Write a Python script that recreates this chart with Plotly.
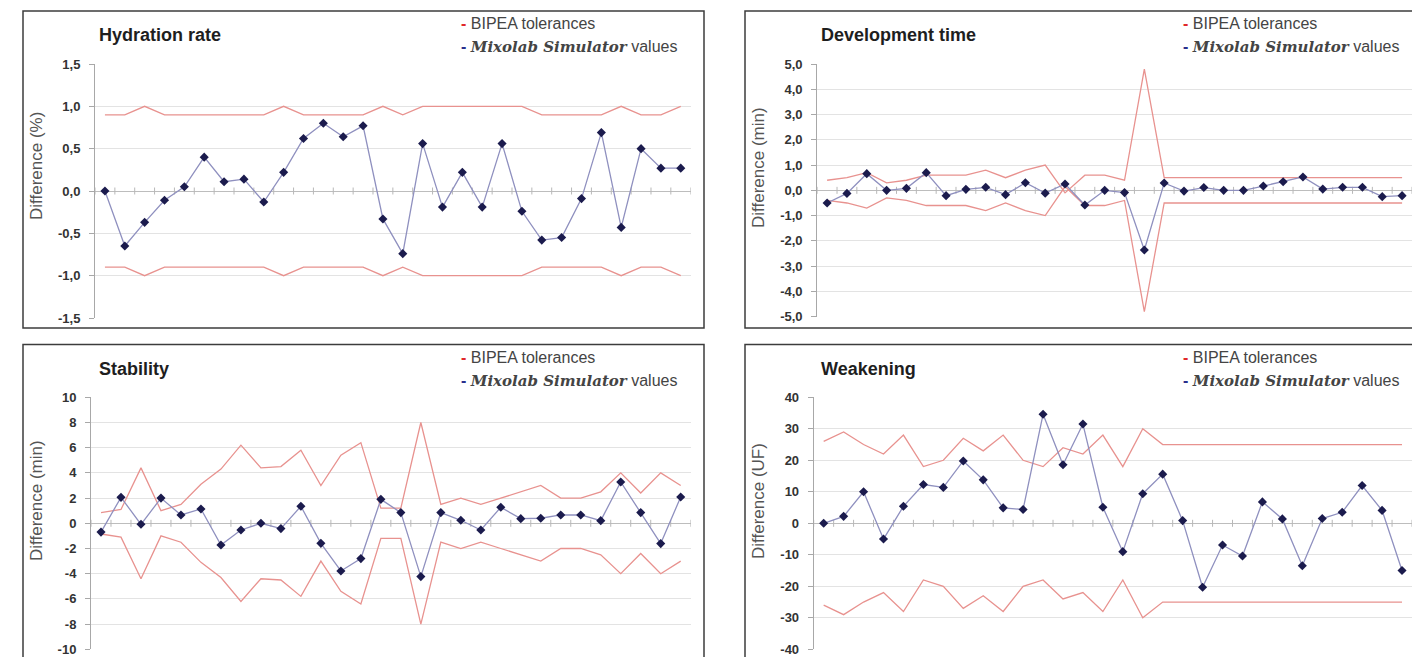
import plotly.graph_objects as go

# ---- data -------------------------------------------------------------
samples = list(range(1, 31))

hydration_sim = [0.0, -0.65, -0.37, -0.11, 0.05, 0.40, 0.11, 0.14, -0.13, 0.22,
                 0.62, 0.80, 0.64, 0.77, -0.33, -0.74, 0.56, -0.19, 0.22, -0.19,
                 0.56, -0.24, -0.58, -0.55, -0.09, 0.69, -0.43, 0.50, 0.27, 0.27]
hydration_upper = [0.9, 0.9, 1.0, 0.9, 0.9, 0.9, 0.9, 0.9, 0.9, 1.0,
                   0.9, 0.9, 0.9, 0.9, 1.0, 0.9, 1.0, 1.0, 1.0, 1.0,
                   1.0, 1.0, 0.9, 0.9, 0.9, 0.9, 1.0, 0.9, 0.9, 1.0]
hydration_lower = [-0.9, -0.9, -1.0, -0.9, -0.9, -0.9, -0.9, -0.9, -0.9, -1.0,
                   -0.9, -0.9, -0.9, -0.9, -1.0, -0.9, -1.0, -1.0, -1.0, -1.0,
                   -1.0, -1.0, -0.9, -0.9, -0.9, -0.9, -1.0, -0.9, -0.9, -1.0]
hydration_tickvals = [-1.5, -1.0, -0.5, 0.0, 0.5, 1.0, 1.5]
hydration_ticktext = ["-1,5", "-1,0", "-0,5", "0,0", "0,5", "1,0", "1,5"]

devtime_sim = [-0.50, -0.12, 0.66, 0.0, 0.08, 0.70, -0.21, 0.04, 0.12, -0.17,
               0.30, -0.11, 0.25, -0.58, 0.0, -0.09, -2.36, 0.29, -0.03, 0.11,
               0.0, 0.0, 0.17, 0.34, 0.53, 0.05, 0.12, 0.12, -0.25, -0.21]
devtime_upper = [0.4, 0.5, 0.7, 0.3, 0.4, 0.6, 0.6, 0.6, 0.8, 0.5,
                 0.8, 1.0, -0.1, 0.6, 0.6, 0.4, 4.8, 0.5, 0.5, 0.5,
                 0.5, 0.5, 0.5, 0.5, 0.5, 0.5, 0.5, 0.5, 0.5, 0.5]
devtime_lower = [-0.4, -0.5, -0.7, -0.3, -0.4, -0.6, -0.6, -0.6, -0.8, -0.5,
                 -0.8, -1.0, 0.15, -0.6, -0.6, -0.4, -4.8, -0.5, -0.5, -0.5,
                 -0.5, -0.5, -0.5, -0.5, -0.5, -0.5, -0.5, -0.5, -0.5, -0.5]
devtime_tickvals = [-5, -4, -3, -2, -1, 0, 1, 2, 3, 4, 5]
devtime_ticktext = ["-5,0", "-4,0", "-3,0", "-2,0", "-1,0", "0,0",
                    "1,0", "2,0", "3,0", "4,0", "5,0"]

stability_sim = [-0.70, 2.06, -0.08, 2.0, 0.66, 1.14, -1.72, -0.53, 0.0, -0.42,
                 1.35, -1.59, -3.78, -2.80, 1.90, 0.85, -4.23, 0.85, 0.24, -0.53,
                 1.27, 0.37, 0.40, 0.66, 0.66, 0.21, 3.28, 0.85, -1.61, 2.09]
stability_upper = [0.85, 1.1, 4.4, 1.0, 1.5, 3.1, 4.3, 6.2, 4.4, 4.5,
                   5.8, 3.0, 5.4, 6.4, 1.2, 1.2, 8.0, 1.5, 2.0, 1.5,
                   2.0, 2.5, 3.0, 2.0, 2.0, 2.5, 4.0, 2.4, 4.0, 3.0]
stability_lower = [-0.85, -1.1, -4.4, -1.0, -1.5, -3.1, -4.3, -6.2, -4.4, -4.5,
                   -5.8, -3.0, -5.4, -6.4, -1.2, -1.2, -8.0, -1.5, -2.0, -1.5,
                   -2.0, -2.5, -3.0, -2.0, -2.0, -2.5, -4.0, -2.4, -4.0, -3.0]
stability_tickvals = [-10, -8, -6, -4, -2, 0, 2, 4, 6, 8, 10]
stability_ticktext = ["-10", "-8", "-6", "-4", "-2", "0", "2", "4", "6", "8", "10"]

weakening_sim = [0.0, 2.2, 10.0, -5.0, 5.4, 12.3, 11.4, 19.8, 13.8, 4.9,
                 4.4, 34.6, 18.6, 31.5, 5.1, -9.0, 9.4, 15.6, 0.85, -20.3,
                 -6.9, -10.4, 6.8, 1.4, -13.5, 1.5, 3.5, 12.0, 4.1, -15.0]
weakening_upper = [26, 29, 25, 22, 28, 18, 20, 27, 23, 28,
                   20, 18, 24, 22, 28, 18, 30, 25, 25, 25,
                   25, 25, 25, 25, 25, 25, 25, 25, 25, 25]
weakening_lower = [-26, -29, -25, -22, -28, -18, -20, -27, -23, -28,
                   -20, -18, -24, -22, -28, -18, -30, -25, -25, -25,
                   -25, -25, -25, -25, -25, -25, -25, -25, -25, -25]
weakening_tickvals = [-40, -30, -20, -10, 0, 10, 20, 30, 40]
weakening_ticktext = ["-40", "-30", "-20", "-10", "0", "10", "20", "30", "40"]

# ---- layout helpers --------------------------------------------------
W, H = 1412, 657


def fx(px):
    return px / W


def fy(px):
    return 1 - px / H


SANS = "Liberation Sans, Arial, sans-serif"
TOL_COLOR = "#e8928f"
SIM_LINE = "#8f90bf"
SIM_MARK = "#1b1b4d"

panels = [
    dict(title="Hydration rate", ytitle="Difference (%)", sim=hydration_sim,
         upper=hydration_upper, lower=hydration_lower, yrange=[-1.5, 1.5],
         tickvals=hydration_tickvals, ticktext=hydration_ticktext,
         box=(23, 11, 704, 328), area=(95, 64, 690.7, 318),
         ytitle_pos=(36, 166)),
    dict(title="Development time", ytitle="Difference (min)", sim=devtime_sim,
         upper=devtime_upper, lower=devtime_lower, yrange=[-5, 5],
         tickvals=devtime_tickvals, ticktext=devtime_ticktext,
         box=(745, 11, 1430, 328), area=(817.2, 64, 1412, 316.7),
         ytitle_pos=(758, 168)),
    dict(title="Stability", ytitle="Difference (min)", sim=stability_sim,
         upper=stability_upper, lower=stability_lower, yrange=[-10, 10],
         tickvals=stability_tickvals, ticktext=stability_ticktext,
         box=(23, 344.5, 704, 680), area=(91, 397.3, 690.7, 649.3),
         ytitle_pos=(36, 501)),
    dict(title="Weakening", ytitle="Difference (UF)", sim=weakening_sim,
         upper=weakening_upper, lower=weakening_lower, yrange=[-40, 40],
         tickvals=weakening_tickvals, ticktext=weakening_ticktext,
         box=(745, 344.5, 1430, 680), area=(813.7, 397.3, 1412, 649.3),
         ytitle_pos=(758, 501)),
]

fig = go.Figure()
shapes = []
annotations = []
layout_axes = {}

for i, p in enumerate(panels):
    n = i + 1
    xa = "x" if n == 1 else f"x{n}"
    ya = "y" if n == 1 else f"y{n}"
    xkey = "xaxis" if n == 1 else f"xaxis{n}"
    ykey = "yaxis" if n == 1 else f"yaxis{n}"

    # tolerance bands
    for band in (p["upper"], p["lower"]):
        fig.add_trace(go.Scatter(x=samples, y=band, mode="lines",
                                 line=dict(color=TOL_COLOR, width=1.3),
                                 xaxis=xa, yaxis=ya, showlegend=False,
                                 hoverinfo="skip"))
    # category tick marks on the horizontal axis (crossing at zero)
    bounds = [s + 0.5 for s in [0] + samples]
    fig.add_trace(go.Scatter(x=bounds, y=[0] * len(bounds), mode="markers",
                             marker=dict(symbol="line-ns", size=5,
                                         line=dict(color="#b8b8b8", width=1)),
                             xaxis=xa, yaxis=ya, showlegend=False,
                             hoverinfo="skip"))
    # simulator values
    fig.add_trace(go.Scatter(x=samples, y=p["sim"], mode="lines+markers",
                             line=dict(color=SIM_LINE, width=1.3),
                             marker=dict(symbol="diamond", size=7, color=SIM_MARK),
                             xaxis=xa, yaxis=ya, showlegend=False))

    x0, y0, x1, y1 = p["area"]
    layout_axes[xkey] = dict(domain=[fx(x0), min(1.0, fx(x1))], range=[0.5, 30.5],
                             showgrid=False, zeroline=False, showline=False,
                             showticklabels=False, ticks="", anchor=ya,
                             automargin=False)
    layout_axes[ykey] = dict(domain=[fy(y1), fy(y0)], range=p["yrange"],
                             tickvals=p["tickvals"], ticktext=p["ticktext"],
                             showgrid=True, gridcolor="#e3e3e3", gridwidth=1,
                             zeroline=True, zerolinecolor="#bdbdbd", zerolinewidth=1,
                             showline=True, linecolor="#a8a8a8", linewidth=1,
                             ticks="outside", ticklen=5, tickcolor="#a8a8a8",
                             ticklabelstandoff=6, automargin=False,
                             tickfont=dict(family=SANS, size=13, weight="bold",
                                           color="#333333"),
                             anchor=xa)

    bx0, by0, bx1, by1 = p["box"]
    shapes.append(dict(type="rect", xref="paper", yref="paper",
                       x0=fx(bx0), x1=fx(bx1), y0=fy(by1), y1=fy(by0),
                       line=dict(color="#3c3c3c", width=1.5), layer="above"))

    # panel title
    annotations.append(dict(xref="paper", yref="paper", x=fx(bx0 + 74),
                            y=fy(by0 + 24), xanchor="left", yanchor="middle",
                            text=p["title"], showarrow=False,
                            font=dict(family=SANS, size=18, weight="bold",
                                      color="#1e1e1e")))
    # legend lines
    annotations.append(dict(xref="paper", yref="paper", x=fx(bx0 + 436),
                            y=fy(by0 + 12.5), xanchor="left", yanchor="middle",
                            text="<span style='color:#e0282a;font-weight:bold'>-</span> "
                                 "BIPEA tolerances",
                            showarrow=False,
                            font=dict(family=SANS, size=16, color="#444444")))
    annotations.append(dict(xref="paper", yref="paper", x=fx(bx0 + 436),
                            y=fy(by0 + 36.5), xanchor="left", yanchor="middle",
                            text="<span style='color:#2a2f8c;font-weight:bold'>-</span> "
                                 "<span style='font-family:DejaVu Serif;font-weight:bold;"
                                 "font-style:italic;font-size:15px'>Mixolab Simulator</span>"
                                 " values",
                            showarrow=False,
                            font=dict(family=SANS, size=16, color="#444444")))
    # y axis title
    tx, ty = p["ytitle_pos"]
    annotations.append(dict(xref="paper", yref="paper", x=fx(tx), y=fy(ty),
                            xanchor="center", yanchor="middle", textangle=-90,
                            text=p["ytitle"], showarrow=False,
                            font=dict(family=SANS, size=17, color="#555555")))

fig.update_layout(width=W, height=H, margin=dict(l=0, r=0, t=0, b=0, autoexpand=False),
                  paper_bgcolor="white", plot_bgcolor="white",
                  shapes=shapes, annotations=annotations, showlegend=False,
                  **layout_axes)

fig.write_html("out.html")
